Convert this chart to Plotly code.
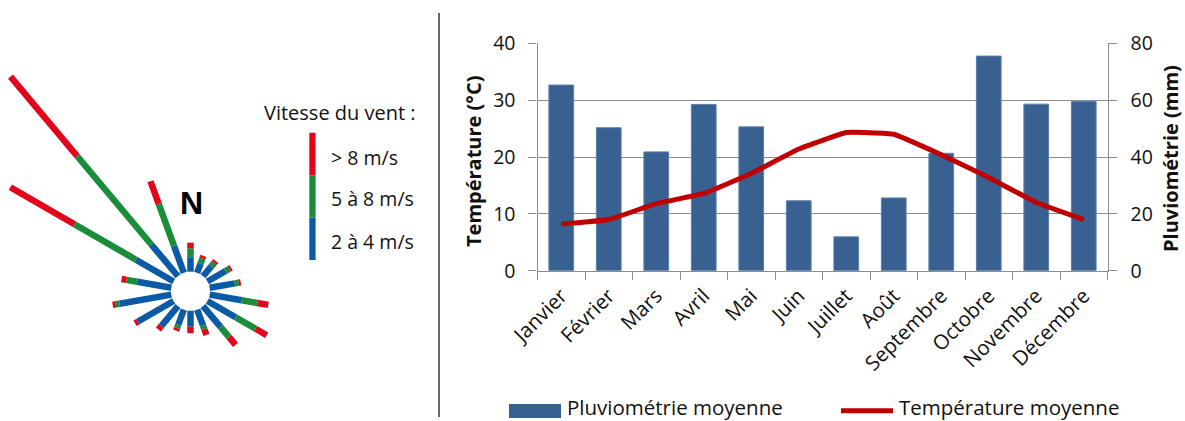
import numpy as np
import plotly.graph_objects as go

W, H = 1185, 421

# ---------------- data ----------------
months = ["Janvier", "Février", "Mars", "Avril", "Mai", "Juin", "Juillet",
          "Août", "Septembre", "Octobre", "Novembre", "Décembre"]
rain_mm = [65.3, 50.3, 41.8, 58.5, 50.6, 24.6, 11.9, 25.6, 41.3, 75.5, 58.6, 59.5]
temp_c = [8.2, 9.0, 11.8, 13.6, 17.1, 21.4, 24.3, 24.0, 20.4, 16.4, 12.0, 9.0]

wind_dir = [0, 20, 40, 60, 80, 100, 120, 140, 160, 180, 200, 220, 240, 260, 280, 300, 320, 340]
wind_2_4 = [14.5, 9.9, 12.9, 21.0, 25.5, 32.5, 32.5, 27.5, 17.2, 16.0, 16.2, 26.1, 41.5, 52.5, 34.5, 43.5, 41.5, 28.5]
wind_5_8 = [9.0, 5.4, 4.6, 4.5, 4.0, 16.0, 23.0, 13.0, 3.8, 0.0, 3.6, 0.0, 0.0, 4.0, 11.0, 71.0, 115.5, 45.0]
wind_gt8 = [5.5, 2.9, 2.4, 2.0, 2.0, 11.0, 13.0, 10.0, 6.0, 6.5, 2.7, 4.4, 3.0, 3.0, 5.0, 74.0, 103.5, 24.0]

wind_classes = ["2 à 4 m/s", "5 à 8 m/s", "> 8 m/s"]
wind_colors = ["#0b5aa6", "#1a8c3a", "#e2061c"]

BAR_COLOR = "#386192"
LINE_COLOR = "#c00000"
GRID = "#8c8c8c"
FONT = "Open Sans"


def fx(px):
    return px / W


def fy(py):
    return 1 - py / H


fig = go.Figure()

# ---------------- wind rose (polar data converted to x/y) ----------------
HOLE = 19.5
theta = np.radians(np.array(wind_dir, dtype=float))
start = np.full(len(wind_dir), HOLE)
for name, seg, col in zip(wind_classes, [wind_2_4, wind_5_8, wind_gt8], wind_colors):
    seg = np.array(seg, dtype=float)
    end = start + seg
    xs, ys = [], []
    for th, r0, r1 in zip(theta, start, end):
        if r1 - r0 <= 0:
            continue
        xs += [r0 * np.sin(th), r1 * np.sin(th), None]
        ys += [r0 * np.cos(th), r1 * np.cos(th), None]
    fig.add_trace(go.Scatter(x=xs, y=ys, mode="lines", name=name,
                             line=dict(color=col, width=6.5),
                             xaxis="x2", yaxis="y2", showlegend=False,
                             hoverinfo="skip"))
    start = end

# ---------------- climate chart ----------------
fig.add_trace(go.Bar(x=months, y=rain_mm, name="Pluviométrie moyenne",
                     marker=dict(color=BAR_COLOR, line=dict(color="#5a7fae", width=1)),
                     xaxis="x", yaxis="y", showlegend=False))
fig.add_trace(go.Scatter(x=months, y=temp_c, name="Température moyenne",
                         mode="lines", line=dict(color=LINE_COLOR, width=5,
                                                 shape="spline", smoothing=0.3),
                         xaxis="x", yaxis="y3", showlegend=False))

x0p, x1p, y0p, y1p = 537.5, 1107.5, 43.3, 270.7
tickfont = dict(family=FONT, size=19.5, color="#111111")
xtickfont = dict(family=FONT, size=20.5, color="#111111")

fig.update_layout(
    width=W, height=H,
    margin=dict(l=0, r=0, t=0, b=0, autoexpand=False),
    paper_bgcolor="white", plot_bgcolor="rgba(0,0,0,0)",
    bargap=0.48,
    font=dict(family=FONT, color="#111111"),
    xaxis=dict(domain=[fx(x0p), fx(x1p)], anchor="y", type="category",
               automargin=False,
               showline=True, linecolor=GRID, linewidth=1.2,
               ticks="outside", tickson="boundaries", ticklen=8, tickcolor=GRID,
               tickwidth=1.2, tickangle=-45, tickfont=xtickfont, showgrid=False,
               ticklabelstandoff=4),
    yaxis=dict(domain=[fy(y1p), fy(y0p)], anchor="x", side="right",
               automargin=False,
               range=[0, 80], dtick=20, showline=True, linecolor=GRID, linewidth=1.2,
               ticks="outside", ticklen=8, tickcolor=GRID, tickwidth=1.2,
               showgrid=True, gridcolor=GRID, gridwidth=1.2,
               tickfont=tickfont, ticklabelstandoff=10, zeroline=False),
    yaxis3=dict(overlaying="y", anchor="x", side="left", automargin=False,
                range=[0, 40], dtick=10, showline=True, linecolor=GRID, linewidth=1.2,
                ticks="outside", ticklen=8, tickcolor=GRID, tickwidth=1.2,
                showgrid=False, tickfont=tickfont, ticklabelstandoff=9,
                zeroline=False),
    xaxis2=dict(domain=[0, fx(438)], anchor="y2", range=[-190.5, 438 - 190.5],
                visible=False, fixedrange=True, automargin=False),
    yaxis2=dict(domain=[0, 1], anchor="x2", range=[-(H - 291.2), 291.2],
                visible=False, fixedrange=True, automargin=False),
)

shapes = []
# divider
shapes.append(dict(type="line", xref="paper", yref="paper",
                   x0=fx(439), x1=fx(439), y0=fy(13), y1=fy(417),
                   line=dict(color="#595959", width=1.8)))
# wind speed key bar
key_bounds = [(217.5, 260), (175.5, 217.5), (132.7, 175.5)]
for (ya, yb), col in zip(key_bounds, wind_colors):
    shapes.append(dict(type="rect", xref="paper", yref="paper",
                       x0=fx(309.3), x1=fx(315.6), y0=fy(yb), y1=fy(ya),
                       fillcolor=col, line=dict(width=0)))
# chart legend swatches
shapes.append(dict(type="rect", xref="paper", yref="paper",
                   x0=fx(509), x1=fx(561), y0=fy(418), y1=fy(404),
                   fillcolor=BAR_COLOR, line=dict(width=0)))
shapes.append(dict(type="line", xref="paper", yref="paper",
                   x0=fx(841), x1=fx(893), y0=fy(410.7), y1=fy(410.7),
                   line=dict(color=LINE_COLOR, width=5)))

ann = []
ann.append(dict(text="N", xref="x2", yref="y2", x=0.5, y=88.7, showarrow=False,
                font=dict(family="Liberation Sans", size=32, color="black", weight="bold"),
                xanchor="center", yanchor="middle"))
ann.append(dict(text="Vitesse du vent :", xref="paper", yref="paper",
                x=fx(262), y=fy(112), showarrow=False, xanchor="left", yanchor="middle",
                font=dict(family=FONT, size=20, color="#111111")))
for label, ypx in zip(["> 8 m/s", "5 à 8 m/s", "2 à 4 m/s"], [157, 198.5, 241]):
    ann.append(dict(text=label, xref="paper", yref="paper", x=fx(329), y=fy(ypx),
                    showarrow=False, xanchor="left", yanchor="middle",
                    font=dict(family=FONT, size=19.5, color="#111111")))
ann.append(dict(text="Température (°C)", xref="paper", yref="paper",
                x=fx(474), y=fy(162), textangle=-90, showarrow=False,
                xanchor="center", yanchor="middle",
                font=dict(family=FONT, size=20, color="#111111", weight="bold")))
ann.append(dict(text="Pluviométrie (mm)", xref="paper", yref="paper",
                x=fx(1171), y=fy(159), textangle=-90, showarrow=False,
                xanchor="center", yanchor="middle",
                font=dict(family=FONT, size=20, color="#111111", weight="bold")))
ann.append(dict(text="Pluviométrie moyenne", xref="paper", yref="paper",
                x=fx(565), y=fy(407), showarrow=False, xanchor="left", yanchor="middle",
                font=dict(family=FONT, size=20.5, color="#111111")))
ann.append(dict(text="Température moyenne", xref="paper", yref="paper",
                x=fx(897), y=fy(407), showarrow=False, xanchor="left", yanchor="middle",
                font=dict(family=FONT, size=20.5, color="#111111")))

fig.update_layout(shapes=shapes, annotations=ann)

fig.write_html("out.html",
               config={"displayModeBar": False},
               post_script="document.body.style.margin='0px';"
                           "document.body.style.overflow='hidden';")
